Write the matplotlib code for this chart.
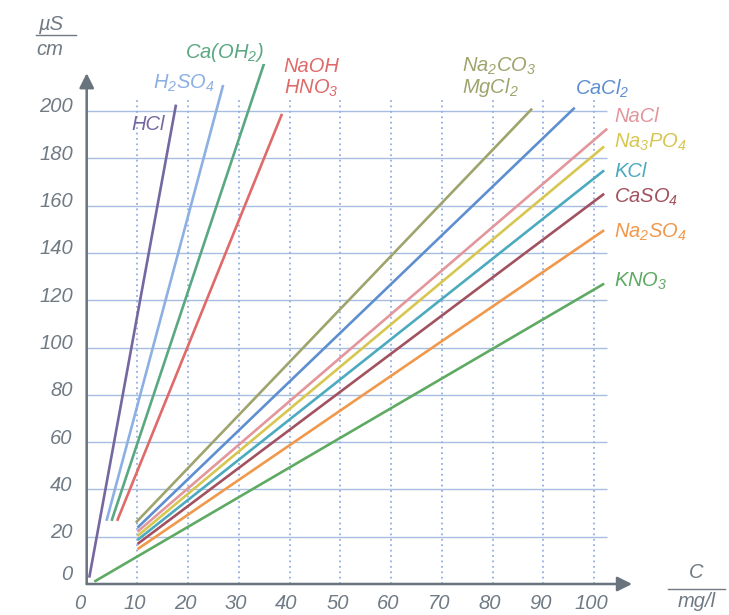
import matplotlib
matplotlib.use('Agg')
import matplotlib.pyplot as plt
import matplotlib.transforms as mtransforms
import numpy as np

plt.rcParams['font.family'] = ['Liberation Sans', 'DejaVu Sans']
plt.rcParams['font.style'] = 'italic'
plt.rcParams['mathtext.fontset'] = 'custom'
plt.rcParams['mathtext.rm'] = 'Liberation Sans:italic'
plt.rcParams['mathtext.it'] = 'Liberation Sans:italic'

### data: conductivity (uS/cm) vs concentration (mg/l) ###
salts = ['HCl', 'H2SO4', 'Ca(OH)2', 'NaOH/HNO3', 'Na2CO3/MgCl2', 'CaCl2',
         'NaCl', 'Na3PO4', 'KCl', 'CaSO4', 'Na2SO4', 'KNO3']
c_start = [0.5, 3.9, 4.9, 6.0, 9.7, 10.0, 10.0, 10.0, 10.0, 10.0, 10.0, 1.5]
c_end = [17.6, 26.9, 35.2, 38.5, 87.8, 96.2, 102.6, 102.0, 102.0, 102.0, 102.0, 102.0]
k_start = [2.7, 26.7, 26.7, 26.7, 26.0, 23.8, 22.1, 20.3, 18.6, 16.9, 14.7, 1.0]
k_end = [202.7, 211.0, 221.6, 198.8, 201.0, 201.4, 192.5, 185.0, 174.9, 165.0, 149.6, 127.0]

x_ticks = [0, 10, 20, 30, 40, 50, 60, 70, 80, 90, 100]
y_ticks = [0, 20, 40, 60, 80, 100, 120, 140, 160, 180, 200]

colors = ['#7567a0', '#8db0e2', '#5aa882', '#e06a6a', '#9fa46c', '#5d8fd0',
          '#e3969c', '#d7c64f', '#4caabf', '#a2515f', '#f0984b', '#5faa63']

# label text, index of colour, x, y (centre of capitals), alignment
labels = [
    ('HCl', 0, 15.5, 195.3, 'right'),
    ('H$_2$SO$_4$', 1, 13.0, 212.6, 'left'),
    ('Ca(OH$_2$)', 2, 19.4, 225.8, 'left'),
    ('NaOH', 3, 38.8, 219.5, 'left'),
    ('HNO$_3$', 3, 38.8, 210.4, 'left'),
    ('Na$_2$CO$_3$', 4, 74.0, 220.0, 'left'),
    ('MgCl$_2$', 4, 74.0, 210.8, 'left'),
    ('CaCl$_2$', 5, 96.3, 210.0, 'left'),
    ('NaCl', 6, 104.0, 198.6, 'left'),
    ('Na$_3$PO$_4$', 7, 104.0, 187.6, 'left'),
    ('KCl', 8, 104.0, 175.2, 'left'),
    ('CaSO$_4$', 9, 104.0, 164.3, 'left'),
    ('Na$_2$SO$_4$', 10, 104.0, 149.6, 'left'),
    ('KNO$_3$', 11, 104.0, 129.0, 'left'),
]

axis_col = '#68737d'
text_col = '#6f7a84'
fs = 14.5

fig = plt.figure(figsize=(7.29, 6.15), dpi=100)
W, H = 729.0, 615.0
x0_px, px_x = 86.7, 5.073
y0_px, px_y = 31.0, 2.365
xmax, ymax = 110, 220
ax = fig.add_axes([x0_px / W, y0_px / H, xmax * px_x / W, ymax * px_y / H])
ax.set_xlim(0, xmax)
ax.set_ylim(0, ymax)
for s in ax.spines.values():
    s.set_visible(False)
ax.patch.set_alpha(0)

### grid ###
ax.hlines(y_ticks[1:], 0, 102.5, color='#a8bde2', lw=1.0, zorder=1)
ax.vlines(x_ticks[1:], 0, 204.5, color='#93aee2', lw=1.3,
          linestyles=(0, (1, 2)), zorder=1)

### axes with arrows ###
ax.annotate('', xy=(107.5, 0), xytext=(0, 0), annotation_clip=False,
            arrowprops=dict(arrowstyle='-|>', color=axis_col, lw=1.8,
                            mutation_scale=22, shrinkA=0, shrinkB=0))
ax.annotate('', xy=(0, 216), xytext=(0, 0), annotation_clip=False,
            arrowprops=dict(arrowstyle='-|>', color=axis_col, lw=1.8,
                            mutation_scale=22, shrinkA=0, shrinkB=0))

### lines ###
for i in range(len(salts)):
    ax.plot([c_start[i], c_end[i]], [k_start[i], k_end[i]], color=colors[i],
            lw=1.9, solid_capstyle='butt', zorder=3)

### labels ###
for txt, ci, lx, ly, ha in labels:
    ax.text(lx, ly - 3.2, txt, color=colors[ci], fontsize=fs, ha=ha,
            va='baseline', clip_on=False)

### ticks ###
ax.set_xticks(x_ticks)
ax.set_yticks(y_ticks)
ax.set_xticklabels([str(v) for v in x_ticks], fontsize=fs, color=text_col)
ax.set_yticklabels([str(v) for v in y_ticks], fontsize=fs, color=text_col)
ax.tick_params(length=0)
ax.tick_params(axis='x', pad=7)
ax.tick_params(axis='y', pad=10)
for lab, v in zip(ax.get_yticklabels(), y_ticks):
    dy = 11 if v == 0 else 6
    off = mtransforms.ScaledTranslation(0, dy / 100.0, fig.dpi_scale_trans)
    lab.set_transform(lab.get_transform() + off)
for lab, v in zip(ax.get_xticklabels(), x_ticks):
    dx = -7 if v == 0 else -3
    off = mtransforms.ScaledTranslation(dx / 100.0, 0, fig.dpi_scale_trans)
    lab.set_transform(lab.get_transform() + off)

### unit fractions ###
ax.text(-7.2, 236.5, '\u00b5S', fontsize=fs, color=text_col, ha='center', va='center')
ax.plot([-10, -2.1], [232.1, 232.1], color=text_col, lw=1.0, clip_on=False)
ax.text(-7.2, 225.8, 'cm', fontsize=fs, color=text_col, ha='center', va='center')

ax.text(120.2, 4.7, 'C', fontsize=fs, color=text_col, ha='center', va='center')
ax.plot([114.6, 125.8], [-2.1, -2.1], color=text_col, lw=1.0, clip_on=False)
ax.text(120.2, -7.5, 'mg/l', fontsize=fs, color=text_col, ha='center', va='center')

plt.savefig('out.png', dpi=100)
